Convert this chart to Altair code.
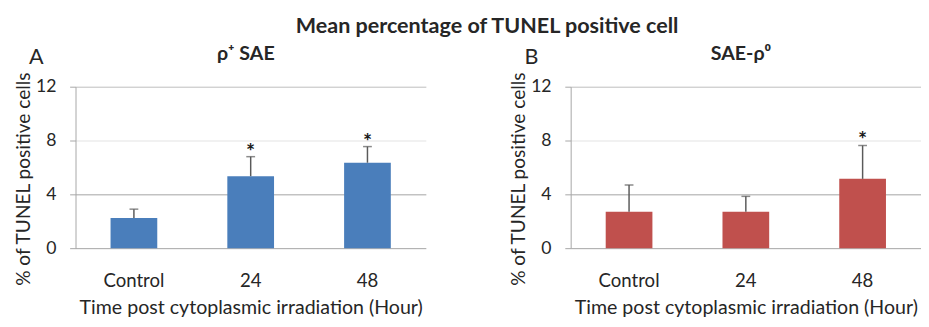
import altair as alt
import pandas as pd

categories = ["Control", "24", "48"]
a_mean = [2.25, 5.35, 6.35]
a_err = [0.65, 1.45, 1.2]
a_star = ["", "*", "*"]
b_mean = [2.7, 2.7, 5.15]
b_err = [2.0, 1.15, 2.48]
b_star = ["", "", "*"]
y_ticks = [0, 4, 8, 12]
main_title = "Mean percentage of TUNEL positive cell"
panel_titles = ["ρ⁺ SAE", "SAE-ρ⁰"]
panel_letters = ["A", "B"]
x_title = "Time post cytoplasmic irradiation (Hour)"
y_title = "% of TUNEL positive cells"

FONT = "Lato"
TEXT = "#262626"
W, H = 358, 165


def panel(mean, err, star, color, letter, subtitle):
    df = pd.DataFrame({
        "cat": categories,
        "mean": mean,
        "hi": [m + e for m, e in zip(mean, err)],
        "star": star,
    })
    x = alt.X(
        "cat:N", sort=categories,
        scale=alt.Scale(paddingInner=0.6, paddingOuter=0.3),
        axis=alt.Axis(title=x_title, labelAngle=0, ticks=False, domain=False,
                      labelFont=FONT, labelFontSize=19, labelColor=TEXT,
                      labelPadding=24, titleFont=FONT, titleFontSize=20,
                      titleFontWeight="normal", titleColor=TEXT, titlePadding=8),
    )
    y = alt.Y(
        "mean:Q",
        scale=alt.Scale(domain=[0, 12], nice=False),
        axis=alt.Axis(title=y_title, values=y_ticks, tickSize=6, tickColor="#a6a6a6",
                      domainColor="#a6a6a6", labelFont=FONT, labelFontSize=18,
                      labelColor=TEXT, labelPadding=14, titleFont=FONT,
                      titleFontSize=19.5, titleFontWeight="normal", titleColor=TEXT,
                      titlePadding=2, titleY=94,
                      gridColor={"condition": [
                          {"test": "datum.value === 8", "value": "#e2e2e2"},
                          {"test": "datum.value === 12", "value": "#bcbcbc"}],
                          "value": "#a3a3a3"}),
    )
    base = alt.Chart(df)
    bars = base.mark_bar(color=color).encode(x=x, y=y)
    rule = base.mark_rule(color="#5a5a5a", strokeWidth=1.5).encode(x=x, y="mean:Q", y2="hi:Q")
    cap = base.mark_tick(color="#5a5a5a", size=9, thickness=1.5).encode(x=x, y="hi:Q")
    stars = base.mark_text(font=FONT, fontSize=22, fontWeight="bold", color="#1a1a1a",
                           baseline="alphabetic", dy=2).encode(x=x, y="hi:Q", text="star:N")
    lab = pd.DataFrame({"letter": [letter], "sub": [subtitle]})
    let = alt.Chart(lab).mark_text(
        font=FONT, fontSize=22, color=TEXT, baseline="alphabetic").encode(
        x=alt.value(-40), y=alt.value(-23), text="letter:N")
    sub = alt.Chart(lab).mark_text(
        font=FONT, fontSize=20, fontWeight="bold", color=TEXT, baseline="alphabetic").encode(
        x=alt.value(W / 2 - 5), y=alt.value(-27), text="sub:N")
    return alt.layer(bars, rule, cap, stars, let, sub).properties(width=W, height=H)


pa = panel(a_mean, a_err, a_star, "#4a7ebb", panel_letters[0], panel_titles[0])
pb = panel(b_mean, b_err, b_star, "#c0504d", panel_letters[1], panel_titles[1])

chart = alt.hconcat(pa, pb, spacing=85).properties(
    title=alt.TitleParams(main_title, font=FONT, fontSize=22, fontWeight="bold",
                          color=TEXT, anchor="middle", dx=20, offset=7),
    padding={"left": 6, "top": 4, "right": 0, "bottom": 0},
).configure_view(stroke=None)

chart.save("out.html", embed_options={"renderer": "svg", "actions": False})
